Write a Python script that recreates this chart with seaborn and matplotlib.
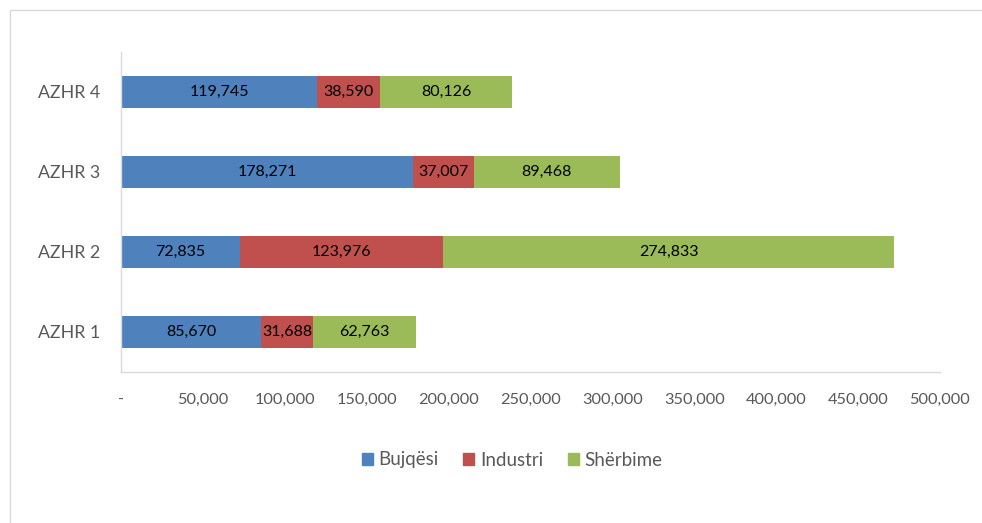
import matplotlib
matplotlib.use("Agg")
import matplotlib.pyplot as plt
import matplotlib.ticker as mticker
from matplotlib.patches import Rectangle
import seaborn as sns
import numpy as np

# te dhenat
zonat = ["AZHR 4", "AZHR 3", "AZHR 2", "AZHR 1"]
bujqesi = [119745, 178271, 72835, 85670]
industri = [38590, 37007, 123976, 31688]
sherbime = [80126, 89468, 274833, 62763]
seri_emra = ["Bujqësi", "Industri", "Shërbime"]
ngjyrat = ["#4F81BD", "#C0504D", "#9BBB59"]
x_ticks = [0, 50000, 100000, 150000, 200000, 250000, 300000, 350000, 400000, 450000, 500000]

sns.set_style("white")
plt.rcParams['font.family'] = ['Lato', 'DejaVu Sans']

b = np.array(bujqesi)
i = np.array(industri)
s = np.array(sherbime)

fig = plt.figure(figsize=(9.82, 5.23), dpi=100)
ax = fig.add_axes([121/982, 1-372/523, (940-121)/982, (372-52)/523])

# grumbullim: totali, pastaj b+i, pastaj b
sns.barplot(x=b+i+s, y=zonat, color=ngjyrat[2], width=0.4, saturation=1, linewidth=0, ax=ax)
sns.barplot(x=b+i, y=zonat, color=ngjyrat[1], width=0.4, saturation=1, linewidth=0, ax=ax)
sns.barplot(x=b, y=zonat, color=ngjyrat[0], width=0.4, saturation=1, linewidth=0, ax=ax)

# etiketat ne mes te segmenteve
for k in range(len(zonat)):
    starts = [0, b[k], b[k]+i[k]]
    for v, st in zip([b[k], i[k], s[k]], starts):
        ax.text(st + v/2, k, f"{v:,}", ha='center', va='center', fontsize=11.5, color='black')

ax.set_xlim(0, 500000)
ax.set_ylim(3.5, -0.5)
ax.set_xticks(x_ticks)
ax.xaxis.set_major_formatter(mticker.FuncFormatter(lambda v, p: "-" if v == 0 else f"{int(v):,}"))
ax.set_xlabel("")
ax.set_ylabel("")

ax.set_yticks(np.arange(-0.5, 4, 1), minor=True)
ax.tick_params(axis='y', which='major', length=0, pad=15, labelsize=12.8, labelcolor='#595959')
ax.tick_params(axis='y', which='minor', length=6, color='#D9D9D9', direction='out')
ax.tick_params(axis='x', which='major', length=6, color='#D9D9D9', direction='out', pad=9,
               labelsize=11.8, labelcolor='#595959')

sns.despine(ax=ax, top=True, right=True)
for sp in ['left', 'bottom']:
    ax.spines[sp].set_color('#D9D9D9')
    ax.spines[sp].set_linewidth(1)

handles = [Rectangle((0, 0), 1, 1, color=c) for c in ngjyrat]
fig.legend(handles, seri_emra, loc='center', bbox_to_anchor=(512/982, 1-460/523), ncol=3,
           frameon=False, fontsize=13.5, handlelength=0.6, handleheight=0.6, handletextpad=0.3,
           columnspacing=1.3, labelcolor='#595959')

# kornize
fig.add_artist(Rectangle((10/982, -0.1), 1.5, 1 - 10/523 + 0.1, transform=fig.transFigure,
                         fill=False, edgecolor='#D9D9D9', linewidth=1))

fig.savefig("out.png", dpi=100)
